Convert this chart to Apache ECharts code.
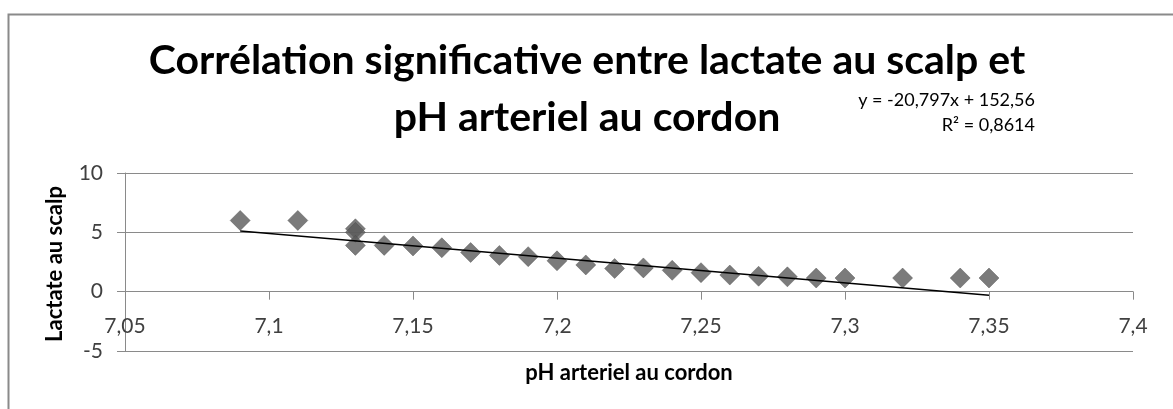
<!DOCTYPE html>
<html>
<head>
<meta charset="utf-8">
<script src="https://cdn.jsdelivr.net/npm/echarts@6/dist/echarts.min.js"></script>
<style>
html,body{margin:0;padding:0;background:#fff;}
#chart{width:1173px;height:409px;}
</style>
</head>
<body>
<div id="chart"></div>
<script>
// ---- data ----
const phValues = [7.09, 7.11, 7.13, 7.13, 7.13, 7.14, 7.15, 7.16, 7.17, 7.18, 7.19, 7.20, 7.21, 7.22, 7.23, 7.24, 7.25, 7.26, 7.27, 7.28, 7.29, 7.30, 7.32, 7.34, 7.35];
const lactateValues = [6.0, 6.0, 5.3, 5.0, 3.9, 3.9, 3.85, 3.7, 3.3, 3.05, 2.95, 2.6, 2.25, 1.95, 2.0, 1.8, 1.6, 1.4, 1.3, 1.25, 1.15, 1.15, 1.15, 1.15, 1.15];
const trendSlope = -20.797;
const trendIntercept = 152.56;
const trendRange = [7.09, 7.35];
const equationLabel = 'y = -20,797x + 152,56';
const r2Label = 'R² = 0,8614';
const titleLines = ['Corrélation significative entre lactate au scalp et', 'pH arteriel au cordon'];
const xAxisTitle = 'pH arteriel au cordon';
const yAxisTitle = 'Lactate au scalp';
const xTicks = {min: 7.05, max: 7.4, interval: 0.05};
const yTicks = {min: -5, max: 10, interval: 5};

const points = phValues.map((x, i) => [x, lactateValues[i]]);
const trendPoints = trendRange.map(x => [x, trendSlope * x + trendIntercept]);

const fmt = v => String(Math.round(v * 100) / 100).replace('.', ',');
const FONT = 'Lato, "DejaVu Sans", sans-serif';

const GRID = {left: 125, right: 40, top: 173, bottom: 58};
const plotH = 409 - GRID.top - GRID.bottom;
// distance (px) from the grid bottom up to the value 0 line
const zeroOffset = plotH * (0 - yTicks.min) / (yTicks.max - yTicks.min);

const chart = echarts.init(document.getElementById('chart'), null, {renderer: 'canvas'});
chart.setOption({
  animation: false,
  backgroundColor: '#ffffff',
  title: {
    text: titleLines.join('\n'),
    left: 582,
    textAlign: 'center',
    top: 27,
    textStyle: {fontFamily: FONT, fontWeight: 'bold', fontSize: 41, lineHeight: 57, color: '#000'}
  },
  grid: Object.assign({containLabel: false, outerBoundsMode: 'none'}, GRID),
  xAxis: {
    type: 'value',
    min: xTicks.min, max: xTicks.max, interval: xTicks.interval,
    offset: -zeroOffset,
    axisLine: {onZero: false, lineStyle: {color: '#8a8a8a', width: 1}},
    axisTick: {show: true, inside: false, length: 8, lineStyle: {color: '#8a8a8a'}},
    splitLine: {show: false},
    axisLabel: {formatter: fmt, margin: 24, fontFamily: FONT, fontSize: 21, color: '#404040'}
  },
  yAxis: {
    type: 'value',
    min: yTicks.min, max: yTicks.max, interval: yTicks.interval,
    axisLine: {show: true, onZero: false, lineStyle: {color: '#8a8a8a', width: 1}},
    axisTick: {show: true, length: 8, lineStyle: {color: '#8a8a8a'}},
    splitLine: {show: true, lineStyle: {color: '#8a8a8a', width: 1}},
    axisLabel: {margin: 22, fontFamily: FONT, fontSize: 21, color: '#404040'}
  },
  series: [
    {
      type: 'scatter',
      data: points,
      symbol: 'diamond',
      symbolSize: 20,
      itemStyle: {color: '#5a5a5a', borderColor: '#484848', borderWidth: 0.5},
      z: 3
    },
    {
      type: 'line',
      data: trendPoints,
      showSymbol: false,
      symbol: 'none',
      lineStyle: {color: '#000', width: 1.5},
      z: 4
    }
  ],
  graphic: [
    {type: 'rect', left: 6, top: 12, shape: {width: 1200, height: 500},
     style: {fill: 'none', stroke: '#8a8a8a', lineWidth: 2}, silent: true, z: 10},
    {type: 'text', x: 1035, y: 91,
     style: {text: equationLabel, textAlign: 'right', fontFamily: FONT, fontSize: 18, fill: '#000'}},
    {type: 'text', x: 1035, y: 116,
     style: {text: r2Label, textAlign: 'right', fontFamily: FONT, fontSize: 18, fill: '#000'}},
    {type: 'text', x: 629, y: 373,
     style: {text: xAxisTitle, textAlign: 'center', textVerticalAlign: 'middle', fontFamily: FONT, fontWeight: 'bold', fontSize: 22, fill: '#000'}},
    {type: 'text', x: 55, y: 264, rotation: Math.PI / 2,
     style: {text: yAxisTitle, textAlign: 'center', textVerticalAlign: 'middle', fontFamily: FONT, fontWeight: 'bold', fontSize: 22, fill: '#000'}}
  ]
});
</script>
</body>
</html>
